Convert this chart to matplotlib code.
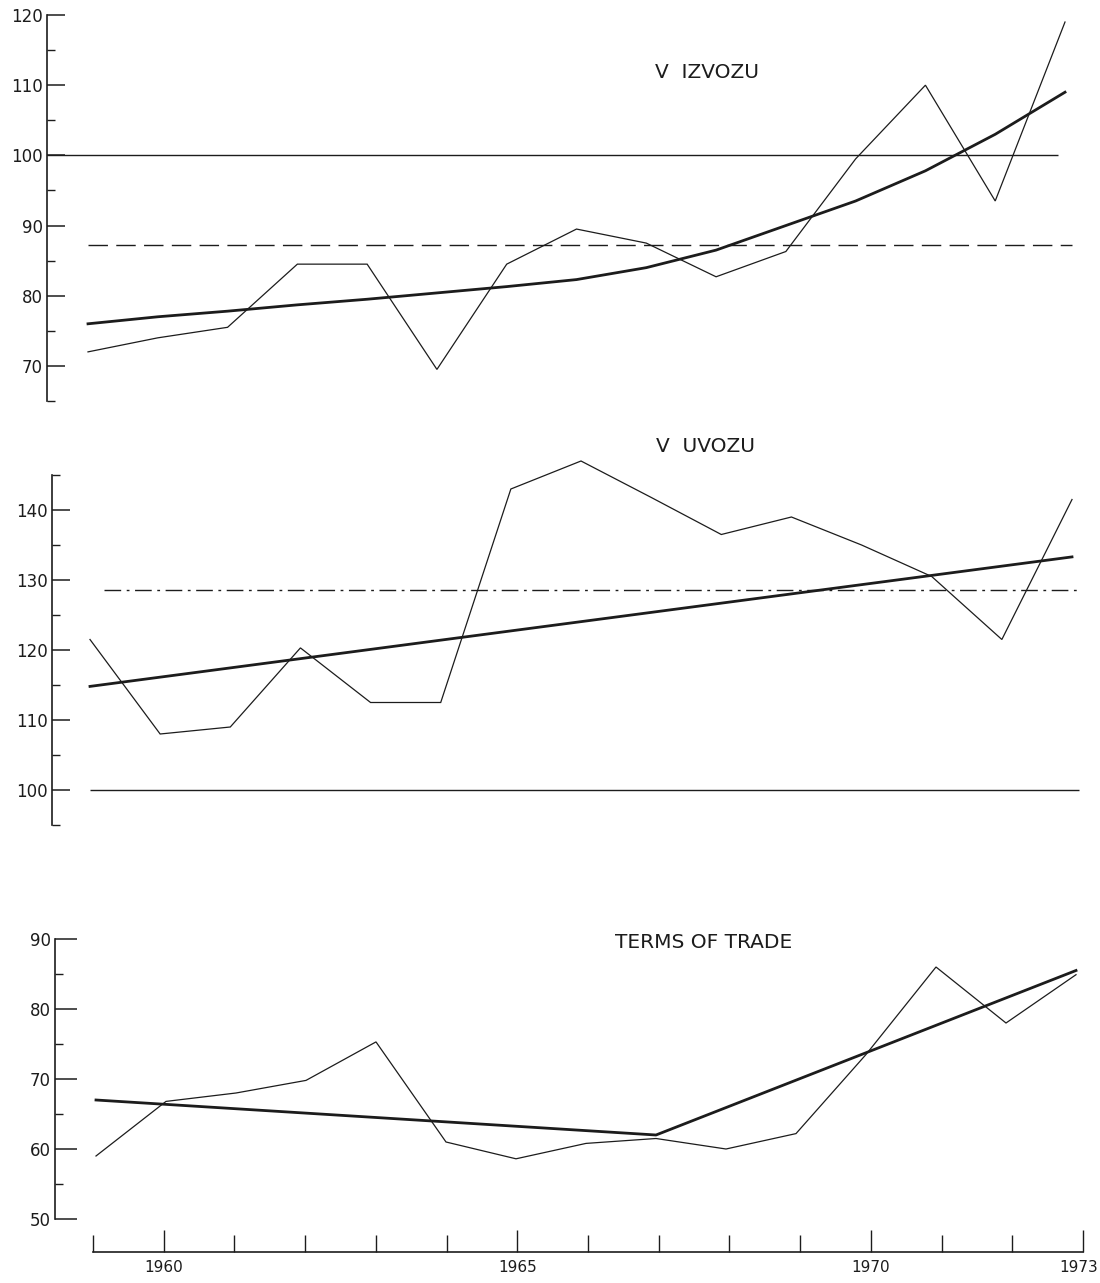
import matplotlib
matplotlib.use("Agg")
import matplotlib.pyplot as plt
from matplotlib.ticker import MultipleLocator, FixedLocator, NullFormatter
import matplotlib.transforms as mtransforms

plt.rcParams['font.family'] = ['DejaVu Sans']

# ---------------- data ----------------
years = list(range(1959, 1974))

export_index = [72, 74, 75.5, 84.5, 84.5, 69.5, 84.5, 89.5, 87.5, 82.7, 86.3, 99.5, 110, 93.5, 119]
export_trend = [76, 77, 77.8, 78.7, 79.5, 80.4, 81.3, 82.3, 84, 86.5, 90, 93.5, 97.8, 103, 109]
export_mean = 87.2

import_index = [121.5, 108, 109, 120.3, 112.5, 112.5, 143, 147, 141.8, 136.5, 139, 135, 130.5, 121.5, 141.5]
import_trend_years = [1959, 1973]
import_trend = [114.8, 133.3]
import_mean = 128.6

tot_index = [59, 66.8, 68, 69.8, 75.3, 61, 58.6, 60.8, 61.5, 60, 62.2, 73.5, 86, 78, 84.9]
tot_trend_years = [1959, 1967, 1973]
tot_trend = [67, 62, 85.5]

base_level = 100

titles = ["V  IZVOZU", "V  UVOZU", "TERMS OF TRADE"]
year_labels = [1960, 1965, 1970, 1973]

# ---------------- layout helpers ----------------
W, H = 1100, 1283
fig = plt.figure(figsize=(W / 100, H / 100), dpi=100)
INK = "#1c1c1c"


def make_axes(spine_px, x0_px, x1_px, top_px, bottom_px, ylim, right_px=1095):
    pxyr = (x1_px - x0_px) / 14.0
    xl = 1959 - (x0_px - spine_px) / pxyr
    xr = 1973 + (right_px - x1_px) / pxyr
    ax = fig.add_axes([spine_px / W, 1 - bottom_px / H,
                       (right_px - spine_px) / W, (bottom_px - top_px) / H])
    ax.set_xlim(xl, xr)
    ax.set_ylim(*ylim)
    for s in ["top", "right", "bottom"]:
        ax.spines[s].set_visible(False)
    ax.spines["left"].set_color(INK)
    ax.spines["left"].set_linewidth(1.2)
    ax.set_xticks([])
    ax.yaxis.set_major_locator(MultipleLocator(10))
    ax.yaxis.set_minor_locator(MultipleLocator(5))
    ax.tick_params(axis="y", which="major", direction="in", length=13, width=1.1,
                   color=INK, labelsize=12, labelcolor=INK, pad=3)
    ax.tick_params(axis="y", which="minor", direction="in", length=6, width=1.0, color=INK)
    ax.patch.set_alpha(0)
    return ax


thin = dict(color=INK, lw=0.9, solid_joinstyle="miter", clip_on=False)
thick = dict(color=INK, lw=2.0, clip_on=False)

# ---------------- panel 1: V IZVOZU ----------------
ax1 = make_axes(47, 88, 1065, 15, 401, (65, 120))
ax1.hlines(base_level, ax1.get_xlim()[0], 1972.9, color=INK, lw=1.0)
ax1.hlines(export_mean, 1959, 1973.1, color=INK, lw=1.0, linestyles=(0, (14, 6)))
ax1.plot(years, export_index, **thin)
ax1.plot(years, export_trend, **thick)
fig.text(707 / W, 1 - 72 / H, titles[0], ha="center", va="center", fontsize=14.5, color=INK)

# ---------------- panel 2: V UVOZU ----------------
ax2 = make_axes(52, 90, 1072, 475, 825, (95, 145))
ax2.hlines(base_level, 1959, 1973.1, color=INK, lw=1.0)
ax2.hlines(import_mean, 1959.2, 1973.1, color=INK, lw=1.0, linestyles=(0, (12, 4, 2, 4)))
ax2.plot(years, import_index, **thin)
ax2.plot(import_trend_years, import_trend, **thick)
fig.text(706 / W, 1 - 447 / H, titles[1], ha="center", va="center", fontsize=14.5, color=INK)

# ---------------- panel 3: TERMS OF TRADE ----------------
ax3 = make_axes(55, 96, 1076, 939, 1219, (50, 90))
ax3.tick_params(axis="y", which="major", length=16)
ax3.plot(years, tot_index, **thin)
ax3.plot(tot_trend_years, tot_trend, **thick)
fig.text(704 / W, 1 - 943 / H, titles[2], ha="center", va="center", fontsize=14.5, color=INK)

# ---------------- shared year axis ----------------
axx = fig.add_axes([93 / W, 1 - 1252 / H, (1083 - 93) / W, 0.02])
axx.set_xlim(1959, 1973)
axx.set_ylim(0, 1)
for s in ["top", "right", "left"]:
    axx.spines[s].set_visible(False)
axx.spines["bottom"].set_color(INK)
axx.spines["bottom"].set_linewidth(1.2)
axx.set_yticks([])
axx.xaxis.set_major_locator(FixedLocator(year_labels))
axx.set_xticklabels([str(y) for y in year_labels])
axx.xaxis.set_minor_locator(FixedLocator([y for y in years if y not in year_labels]))
axx.xaxis.set_minor_formatter(NullFormatter())
axx.tick_params(axis="x", which="major", direction="in", length=16, width=1.0,
                color=INK, labelsize=11, labelcolor=INK, pad=6)
axx.tick_params(axis="x", which="minor", direction="in", length=12, width=1.0, color=INK)
axx.patch.set_alpha(0)
# nudge the last label (1973) left so that it stays inside the figure
last = axx.get_xticklabels()[-1]
last.set_transform(last.get_transform() + mtransforms.ScaledTranslation(-4 / 100, 0, fig.dpi_scale_trans))

fig.savefig("out.png", dpi=100, facecolor="white")
